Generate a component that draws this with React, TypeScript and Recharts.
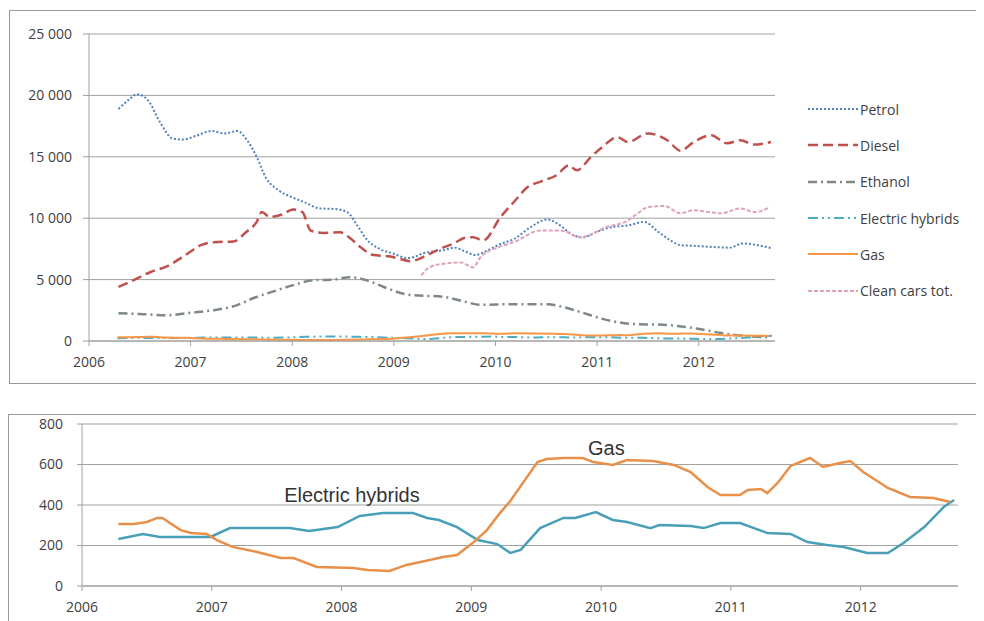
import { LineChart, Line, XAxis, YAxis, CartesianGrid, ReferenceDot } from 'recharts';

// x = year as decimal, y = registrations
const years = [2006, 2007, 2008, 2009, 2010, 2011, 2012];
const topTicks = [0, 5000, 10000, 15000, 20000, 25000];
const bottomTicks = [0, 200, 400, 600, 800];

const petrol = [
  [2006.29, 18900], [2006.4, 19700], [2006.47, 20100], [2006.58, 19600], [2006.7, 17800],
  [2006.82, 16500], [2006.92, 16400], [2007.05, 16700], [2007.21, 17100], [2007.33, 16900],
  [2007.46, 17100], [2007.56, 16300], [2007.65, 15000], [2007.74, 13300], [2007.86, 12300],
  [2008.0, 11700], [2008.12, 11300], [2008.27, 10800], [2008.42, 10750], [2008.54, 10500],
  [2008.64, 9400], [2008.74, 8200], [2008.86, 7500], [2009.0, 7100], [2009.13, 6750],
  [2009.22, 6900], [2009.29, 7150], [2009.49, 7400], [2009.6, 7600], [2009.7, 7300],
  [2009.8, 7000], [2009.9, 7300], [2010.05, 7900], [2010.18, 8300], [2010.35, 9300],
  [2010.51, 9900], [2010.62, 9500], [2010.77, 8600], [2010.86, 8450], [2011.0, 8900],
  [2011.16, 9300], [2011.3, 9400], [2011.46, 9700], [2011.6, 8900], [2011.72, 8200],
  [2011.82, 7800], [2011.95, 7750], [2012.15, 7650], [2012.3, 7600], [2012.44, 7950],
  [2012.58, 7800], [2012.72, 7550],
];

const diesel = [
  [2006.29, 4400], [2006.45, 5000], [2006.6, 5600], [2006.77, 6100], [2006.95, 7000],
  [2007.1, 7800], [2007.22, 8050], [2007.42, 8100], [2007.55, 8900], [2007.65, 9700],
  [2007.7, 10500], [2007.78, 10100], [2007.9, 10300], [2008.01, 10700], [2008.1, 10500],
  [2008.18, 9000], [2008.3, 8800], [2008.47, 8850], [2008.58, 8300], [2008.67, 7650],
  [2008.8, 7000], [2008.95, 6900], [2009.1, 6600], [2009.16, 6500], [2009.33, 7000],
  [2009.45, 7500], [2009.59, 7950], [2009.7, 8400], [2009.78, 8450], [2009.88, 8200],
  [2010.05, 10100], [2010.2, 11500], [2010.31, 12500], [2010.45, 13000], [2010.6, 13500],
  [2010.72, 14300], [2010.8, 13900], [2010.94, 15000], [2011.05, 15800], [2011.2, 16600],
  [2011.3, 16200], [2011.5, 16900], [2011.69, 16350], [2011.82, 15500], [2011.95, 16200],
  [2012.12, 16750], [2012.28, 16100], [2012.41, 16350], [2012.54, 16000], [2012.71, 16200],
];

const ethanol = [
  [2006.29, 2250], [2006.5, 2200], [2006.77, 2100], [2007.0, 2300], [2007.22, 2500],
  [2007.45, 2900], [2007.62, 3500], [2007.8, 4000], [2008.01, 4550], [2008.21, 4950],
  [2008.4, 5000], [2008.57, 5200], [2008.75, 4900], [2008.9, 4400], [2009.16, 3750],
  [2009.49, 3600], [2009.7, 3200], [2009.85, 2950], [2010.2, 3000], [2010.51, 3000],
  [2010.65, 2800], [2010.84, 2350], [2011.1, 1700], [2011.33, 1400], [2011.69, 1300],
  [2011.99, 1000], [2012.22, 650], [2012.48, 400], [2012.7, 300],
];

const cleanCars = [
  [2009.27, 5350], [2009.35, 6000], [2009.49, 6300], [2009.66, 6400], [2009.78, 6000],
  [2009.85, 6800], [2010.05, 7700], [2010.18, 8050], [2010.44, 9000], [2010.64, 9000],
  [2010.84, 8450], [2011.1, 9300], [2011.3, 9800], [2011.4, 10400], [2011.5, 10900],
  [2011.66, 11000], [2011.82, 10400], [2011.95, 10650], [2012.1, 10500], [2012.22, 10400],
  [2012.41, 10800], [2012.55, 10500], [2012.7, 10900],
];

const hybrids = [
  [2006.28, 232], [2006.47, 257], [2006.6, 242], [2006.99, 242], [2007.14, 286],
  [2007.6, 286], [2007.75, 272], [2007.97, 291], [2008.14, 346], [2008.32, 360],
  [2008.55, 360], [2008.66, 336], [2008.75, 326], [2008.89, 291], [2009.05, 227],
  [2009.2, 207], [2009.3, 163], [2009.38, 178], [2009.53, 286], [2009.71, 336],
  [2009.8, 336], [2009.96, 365], [2010.09, 326], [2010.2, 316], [2010.38, 286],
  [2010.45, 301], [2010.69, 296], [2010.79, 286], [2010.92, 311], [2011.07, 311],
  [2011.28, 262], [2011.46, 257], [2011.59, 217], [2011.74, 202], [2011.87, 193],
  [2012.05, 163], [2012.21, 163], [2012.33, 212], [2012.49, 291], [2012.64, 390],
  [2012.72, 425],
];

const gas = [
  [2006.28, 306], [2006.4, 306], [2006.5, 316], [2006.58, 336], [2006.62, 336],
  [2006.76, 276], [2006.84, 262], [2006.96, 257], [2007.04, 227], [2007.16, 193],
  [2007.35, 168], [2007.53, 138], [2007.63, 138], [2007.81, 94], [2008.09, 89],
  [2008.2, 79], [2008.37, 74], [2008.5, 104], [2008.68, 128], [2008.78, 143],
  [2008.89, 153], [2009.01, 212], [2009.12, 276], [2009.22, 360], [2009.3, 420],
  [2009.51, 612], [2009.58, 627], [2009.71, 632], [2009.86, 632], [2009.94, 612],
  [2010.09, 598], [2010.2, 622], [2010.4, 617], [2010.56, 598], [2010.69, 563],
  [2010.82, 489], [2010.92, 449], [2011.07, 449], [2011.13, 474], [2011.23, 479],
  [2011.28, 459], [2011.36, 509], [2011.46, 593], [2011.61, 632], [2011.71, 588],
  [2011.84, 607], [2011.92, 617], [2012.02, 563], [2012.21, 484], [2012.38, 440],
  [2012.56, 435], [2012.69, 415],
];

const toRows = (arr) => arr.map(([t, v]) => ({ t, v }));

const series = [
  { name: 'Petrol', data: petrol, color: '#4F81BD', dash: '2 2', width: 2 },
  { name: 'Diesel', data: diesel, color: '#C0504D', dash: '10 5', width: 2.5 },
  { name: 'Ethanol', data: ethanol, color: '#7E8984', dash: '9 4 2 4', width: 2.5 },
  { name: 'Electric hybrids', data: hybrids, color: '#4BACC6', dash: '10 4 2 4 2 4', width: 2 },
  { name: 'Gas', data: gas, color: '#F79646', dash: undefined, width: 2 },
  { name: 'Clean cars tot.', data: cleanCars, color: '#DFA0BE', dash: '4 2', width: 2 },
];

const fmt = (v) => String(v).replace(/\B(?=(\d{3})+(?!\d))/g, ' ');

const tickFont = { fill: '#404040', fontSize: 14, fontFamily: 'Open Sans' };
const gridColor = '#a0a0a0';

function LegendBox() {
  return (
    <div style={{ position: 'absolute', left: 800, top: 83, fontFamily: 'Open Sans', fontSize: 14, color: '#404040' }}>
      {series.map((s) => (
        <div key={s.name} style={{ display: 'flex', alignItems: 'center', height: 36.3 }}>
          <svg width={52} height={10}>
            <line x1={0} x2={50} y1={5} y2={5} stroke={s.color} strokeWidth={s.width} strokeDasharray={s.dash} />
          </svg>
          <span>{s.name}</span>
        </div>
      ))}
    </div>
  );
}

export default function App() {
  return (
    <div style={{ position: 'relative', width: 976, height: 613, overflow: 'hidden', background: '#fff' }}>
      <div style={{ position: 'absolute', left: 1, top: 2, width: 990, height: 372, border: '1px solid #9a9a9a' }} />
      <div style={{ position: 'absolute', left: 0, top: 406, width: 990, height: 230, border: '1px solid #9a9a9a' }} />

      <div style={{ position: 'absolute', left: 0, top: 0 }}>
        <LineChart width={800} height={380} margin={{ top: 26, right: 33, left: 21, bottom: 17 }}>
          <CartesianGrid vertical={false} stroke={gridColor} />
          <XAxis type="number" dataKey="t" domain={[2006, 2012.75]} ticks={years} allowDataOverflow
            tick={tickFont} tickSize={5} tickMargin={11} height={30}
            axisLine={{ stroke: gridColor }} tickLine={{ stroke: gridColor }} />
          <YAxis domain={[0, 25000]} ticks={topTicks} tickFormatter={fmt} width={60}
            tick={tickFont} tickSize={6} tickMargin={11}
            axisLine={{ stroke: gridColor }} tickLine={{ stroke: gridColor }} />
          {series.map((s) => (
            <Line key={s.name} data={toRows(s.data)} dataKey="v" name={s.name} type="monotone"
              stroke={s.color} strokeWidth={s.width} strokeDasharray={s.dash}
              dot={false} isAnimationActive={false} />
          ))}
        </LineChart>
      </div>
      <LegendBox />

      <div style={{ position: 'absolute', left: 0, top: 400 }}>
        <LineChart width={976} height={213} margin={{ top: 16, right: 26, left: 19, bottom: 5 }}>
          <CartesianGrid vertical={false} stroke={gridColor} />
          <XAxis type="number" dataKey="t" domain={[2006, 2012.75]} ticks={years} allowDataOverflow
            tick={tickFont} tickSize={5} tickMargin={11} height={30}
            axisLine={{ stroke: gridColor }} tickLine={{ stroke: gridColor }} />
          <YAxis domain={[0, 800]} ticks={bottomTicks} width={55}
            tick={tickFont} tickSize={5} tickMargin={14}
            axisLine={{ stroke: gridColor }} tickLine={{ stroke: gridColor }} />
          <Line data={toRows(hybrids)} dataKey="v" name="Electric hybrids" type="linear"
            stroke="#4A9FB8" strokeWidth={2.5} dot={false} isAnimationActive={false} />
          <Line data={toRows(gas)} dataKey="v" name="Gas" type="linear"
            stroke="#E8904A" strokeWidth={2.5} dot={false} isAnimationActive={false} />
          <ReferenceDot x={2010.04} y={681} r={0}
            label={{ value: 'Gas', position: 'center', fontSize: 20, fill: '#333', fontFamily: 'Liberation Sans' }} />
          <ReferenceDot x={2008.08} y={449} r={0}
            label={{ value: 'Electric hybrids', position: 'center', fontSize: 20, fill: '#333', fontFamily: 'Liberation Sans' }} />
        </LineChart>
      </div>
    </div>
  );
}
